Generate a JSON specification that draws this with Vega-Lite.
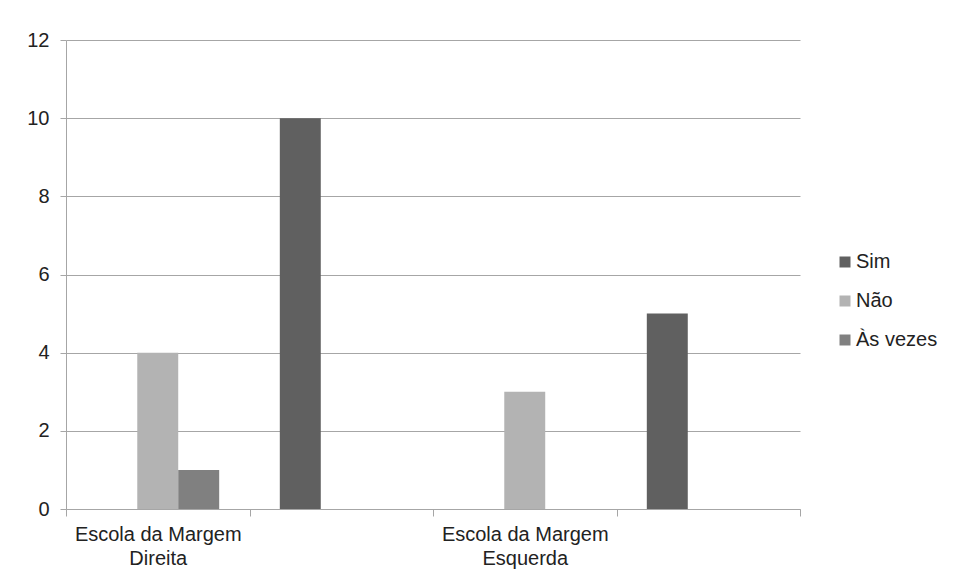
{
  "$schema": "https://vega.github.io/schema/vega-lite/v6.json",
  "width": 734,
  "height": 469,
  "autosize": {"type": "none"},
  "padding": {"left": 66, "top": 40, "right": 158, "bottom": 72},
  "background": "white",
  "config": {
    "view": {"stroke": null},
    "font": "Liberation Sans"
  },
  "data": {
    "values": [
      {"coluna": "Escola da Margem Direita", "resposta": "Não", "total": 4},
      {"coluna": "Escola da Margem Direita", "resposta": "Às vezes", "total": 1},
      {"coluna": "Direita 2", "resposta": "Sim", "total": 10},
      {"coluna": "Escola da Margem Esquerda", "resposta": "Não", "total": 3},
      {"coluna": "Esquerda 2", "resposta": "Sim", "total": 5}
    ]
  },
  "mark": {"type": "bar"},
  "encoding": {
    "x": {
      "field": "coluna",
      "type": "nominal",
      "scale": {
        "domain": ["Escola da Margem Direita", "Direita 2", "Escola da Margem Esquerda", "Esquerda 2"],
        "paddingInner": 0,
        "paddingOuter": 0
      },
      "axis": {
        "title": null,
        "labelAngle": 0,
        "tickBand": "extent",
        "domainColor": "#a6a6a6",
        "tickColor": "#a6a6a6",
        "tickSize": 7,
        "labelPadding": 8,
        "labelFontSize": 20,
        "labelLineHeight": 24,
        "labelColor": "#222222",
        "labelExpr": "datum.value == 'Escola da Margem Direita' ? ['Escola da Margem', 'Direita'] : datum.value == 'Escola da Margem Esquerda' ? ['Escola da Margem', 'Esquerda'] : ''"
      }
    },
    "xOffset": {
      "field": "resposta",
      "type": "nominal",
      "scale": {"domain": ["Sim", "Não", "Às vezes"], "paddingInner": 0, "paddingOuter": 0.74}
    },
    "y": {
      "field": "total",
      "type": "quantitative",
      "scale": {"domain": [0, 12], "nice": false},
      "axis": {
        "title": null,
        "values": [0, 2, 4, 6, 8, 10, 12],
        "domainColor": "#a6a6a6",
        "tickColor": "#a6a6a6",
        "gridColor": "#a6a6a6",
        "tickSize": 6,
        "labelPadding": 11,
        "labelFontSize": 20,
        "labelColor": "#222222"
      }
    },
    "color": {
      "field": "resposta",
      "type": "nominal",
      "scale": {"domain": ["Sim", "Não", "Às vezes"], "range": ["#606060", "#b3b3b3", "#808080"]},
      "legend": {
        "title": null,
        "orient": "none",
        "legendX": 769,
        "legendY": 212,
        "symbolType": "square",
        "symbolSize": 121,
        "symbolStrokeWidth": 0,
        "labelFontSize": 20,
        "labelColor": "#222222",
        "labelOffset": 1,
        "rowPadding": 19
      }
    }
  }
}
